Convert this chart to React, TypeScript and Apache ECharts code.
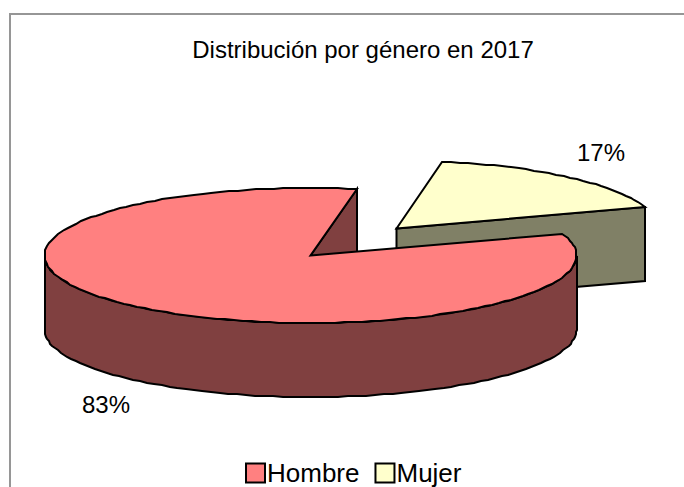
import React, { useEffect, useRef } from "react";
import * as echarts from "echarts";

const chartTitle = "Distribución por género en 2017";
const categories = ["Hombre", "Mujer"];
const values = [83, 17];
const topColors = ["#FF8080", "#FFFFCC"];
const sideColors = ["#804040", "#808066"];

const FONT = "'Liberation Sans', Arial, sans-serif";
const CX = 310.5;
const CY = 255.5;
const RADII = [[266, 67.5], [262, 68]];
const DEPTH = 74;
const START = 10;
const OFFSETS = [[0, 0], [86, -27]];
const LABEL_POS = [[106, 404], [601, 152]];
const STROKE = { stroke: "#000", lineWidth: 2, lineJoin: "miter" };

const total = values.reduce((a, b) => a + b, 0);

function arc(idx: number, ox: number, oy: number, from: number, to: number, dy = 0) {
  const [rx, ry] = RADII[idx];
  const pts: number[][] = [];
  const n = Math.max(1, Math.ceil(Math.abs(to - from) / 2));
  for (let i = 0; i <= n; i++) {
    const t = ((from + ((to - from) * i) / n) * Math.PI) / 180;
    pts.push([
      Math.round(ox + rx * Math.sin(t)),
      Math.round(oy - ry * Math.cos(t) + dy),
    ]);
  }
  return pts;
}

function sliceRange(idx: number): [number, number] {
  const mujerSweep = (values[1] / total) * 360;
  if (idx === 1) return [START, START + mujerSweep];
  return [START + mujerSweep, START + mujerSweep + (values[0] / total) * 360];
}

function renderSlice(idx: number) {
  return (_params: any, api: any) => {
    const v = api.value(0);
    const [from, to] = sliceRange(idx);
    const ox = CX + OFFSETS[idx][0];
    const oy = CY + OFFSETS[idx][1];
    const top = topColors[idx];
    const side = sideColors[idx];
    const children: any[] = [];
    const apex = [ox, oy];
    const cutEnd = arc(idx, ox, oy, to, to)[0];

    children.push({
      type: "polygon",
      shape: { points: [apex, cutEnd, [cutEnd[0], cutEnd[1] + DEPTH], [ox, oy + DEPTH]] },
      style: { fill: side, ...STROKE },
    });

    const rimFrom = Math.max(from, 90);
    const rimTo = Math.min(to, 270);
    if (rimTo > rimFrom) {
      const upper = arc(idx, ox, oy, rimFrom, rimTo);
      const lower = arc(idx, ox, oy, rimFrom, rimTo, DEPTH).reverse();
      children.push({
        type: "polygon",
        shape: { points: [...upper, ...lower] },
        style: { fill: side, ...STROKE },
      });
    }

    children.push({
      type: "polygon",
      shape: { points: [apex, ...arc(idx, ox, oy, from, to)] },
      style: { fill: top, ...STROKE },
    });

    children.push({
      type: "text",
      style: {
        x: LABEL_POS[idx][0],
        y: LABEL_POS[idx][1],
        text: `${v}%`,
        fill: "#000",
        font: `24px ${FONT}`,
        align: "center",
        verticalAlign: "middle",
      },
    });

    return { type: "group", children };
  };
}

export default function App() {
  const ref = useRef<HTMLDivElement>(null);

  useEffect(() => {
    const chart = echarts.init(ref.current!, null, { renderer: "svg" });
    chart.setOption({
      animation: false,
      backgroundColor: "#fff",
      title: {
        text: chartTitle,
        left: 363,
        top: 37,
        padding: 0,
        textAlign: "center",
        textStyle: { fontFamily: FONT, fontSize: 24, fontWeight: "normal", color: "#000" },
      },
      legend: {
        data: categories.map((name) => ({ name, icon: "rect" })),
        left: 245,
        top: 460,
        padding: 0,
        itemWidth: 19,
        itemHeight: 19,
        itemGap: 15,
        selectedMode: false,
        itemStyle: { borderColor: "#000", borderWidth: 2 },
        textStyle: { fontFamily: FONT, fontSize: 26, color: "#000", padding: [0, 0, 0, -3] },
      },
      graphic: [
        {
          type: "rect",
          silent: true,
          z: -1,
          shape: { x: 10, y: 14, width: 800, height: 600 },
          style: { fill: "#fff", stroke: "#969696", lineWidth: 2 },
        },
      ],
      series: [1, 0].map((idx) => ({
        type: "custom",
        name: categories[idx],
        coordinateSystem: "none",
        itemStyle: { color: topColors[idx] },
        data: [[values[idx]]],
        renderItem: renderSlice(idx),
      })),
    });
    return () => chart.dispose();
  }, []);

  return <div ref={ref} style={{ position: "fixed", left: 0, top: 0, width: 684, height: 487 }} />;
}
